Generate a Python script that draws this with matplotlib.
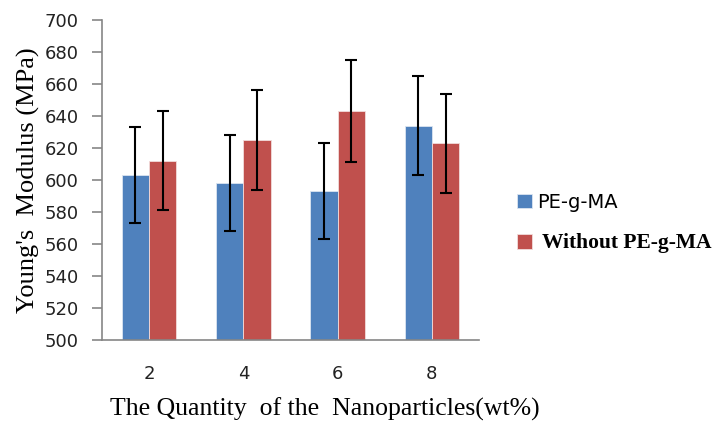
import matplotlib
matplotlib.use("Agg")
import matplotlib.pyplot as plt
import numpy as np

# data
categories = ["2", "4", "6", "8"]
pe_g_ma = [603, 598, 593, 634]
pe_g_ma_err = [30, 30, 30, 31]
without = [612, 625, 643, 623]
without_err = [31, 31, 32, 31]

blue = "#4F81BD"
red = "#C0504D"
grey = "#868686"

fig = plt.figure(figsize=(7.22, 4.21), dpi=100)
ax = fig.add_axes([0.1413, 0.1924, 0.5221, 0.7601])

x = np.arange(len(categories))
w = 0.29
ax.bar(x - w / 2, pe_g_ma, w, color=blue, edgecolor="#dbe5f1", linewidth=0.6, label="PE-g-MA")
ax.bar(x + w / 2, without, w, color=red, edgecolor="#f2dcdb", linewidth=0.6, label=" Without PE-g-MA")
ax.errorbar(x - w / 2, pe_g_ma, yerr=pe_g_ma_err, fmt="none", ecolor="black", elinewidth=1.5, capsize=4, capthick=1.5)
ax.errorbar(x + w / 2, without, yerr=without_err, fmt="none", ecolor="black", elinewidth=1.5, capsize=4, capthick=1.5)

ax.set_xlim(-0.5, len(categories) - 0.5)
ax.set_ylim(500, 700)
ax.set_yticks(np.arange(500, 701, 20))
ax.set_xticks(x)
ax.set_xticklabels(categories)

for s in ["top", "right"]:
    ax.spines[s].set_visible(False)
for s in ["left", "bottom"]:
    ax.spines[s].set_color(grey)
    ax.spines[s].set_linewidth(1.2)

ax.tick_params(axis="y", direction="out", length=7, width=1.2, color=grey, pad=10, labelsize=13, labelcolor="#222222")
ax.tick_params(axis="x", length=0, pad=18, labelsize=13, labelcolor="#222222")

ax.set_ylabel("Young's  Modulus (MPa)", family="Liberation Serif", fontsize=19, labelpad=3)
ax.set_xlabel("The Quantity  of the  Nanoparticles(wt%)", family="Liberation Serif", fontsize=18.5)
ax.xaxis.set_label_coords(0.59, -0.18)

leg = fig.legend(loc="center left", bbox_to_anchor=(0.716, 0.470), frameon=False,
                 borderaxespad=0, borderpad=0, fontsize=14, labelspacing=1.1,
                 handlelength=0.75, handleheight=0.75, handletextpad=0.3)
texts = leg.get_texts()
texts[1].set_family("Liberation Serif")
texts[1].set_fontsize(15.5)
texts[1].set_fontweight("bold")

fig.savefig("out.png", dpi=100)
